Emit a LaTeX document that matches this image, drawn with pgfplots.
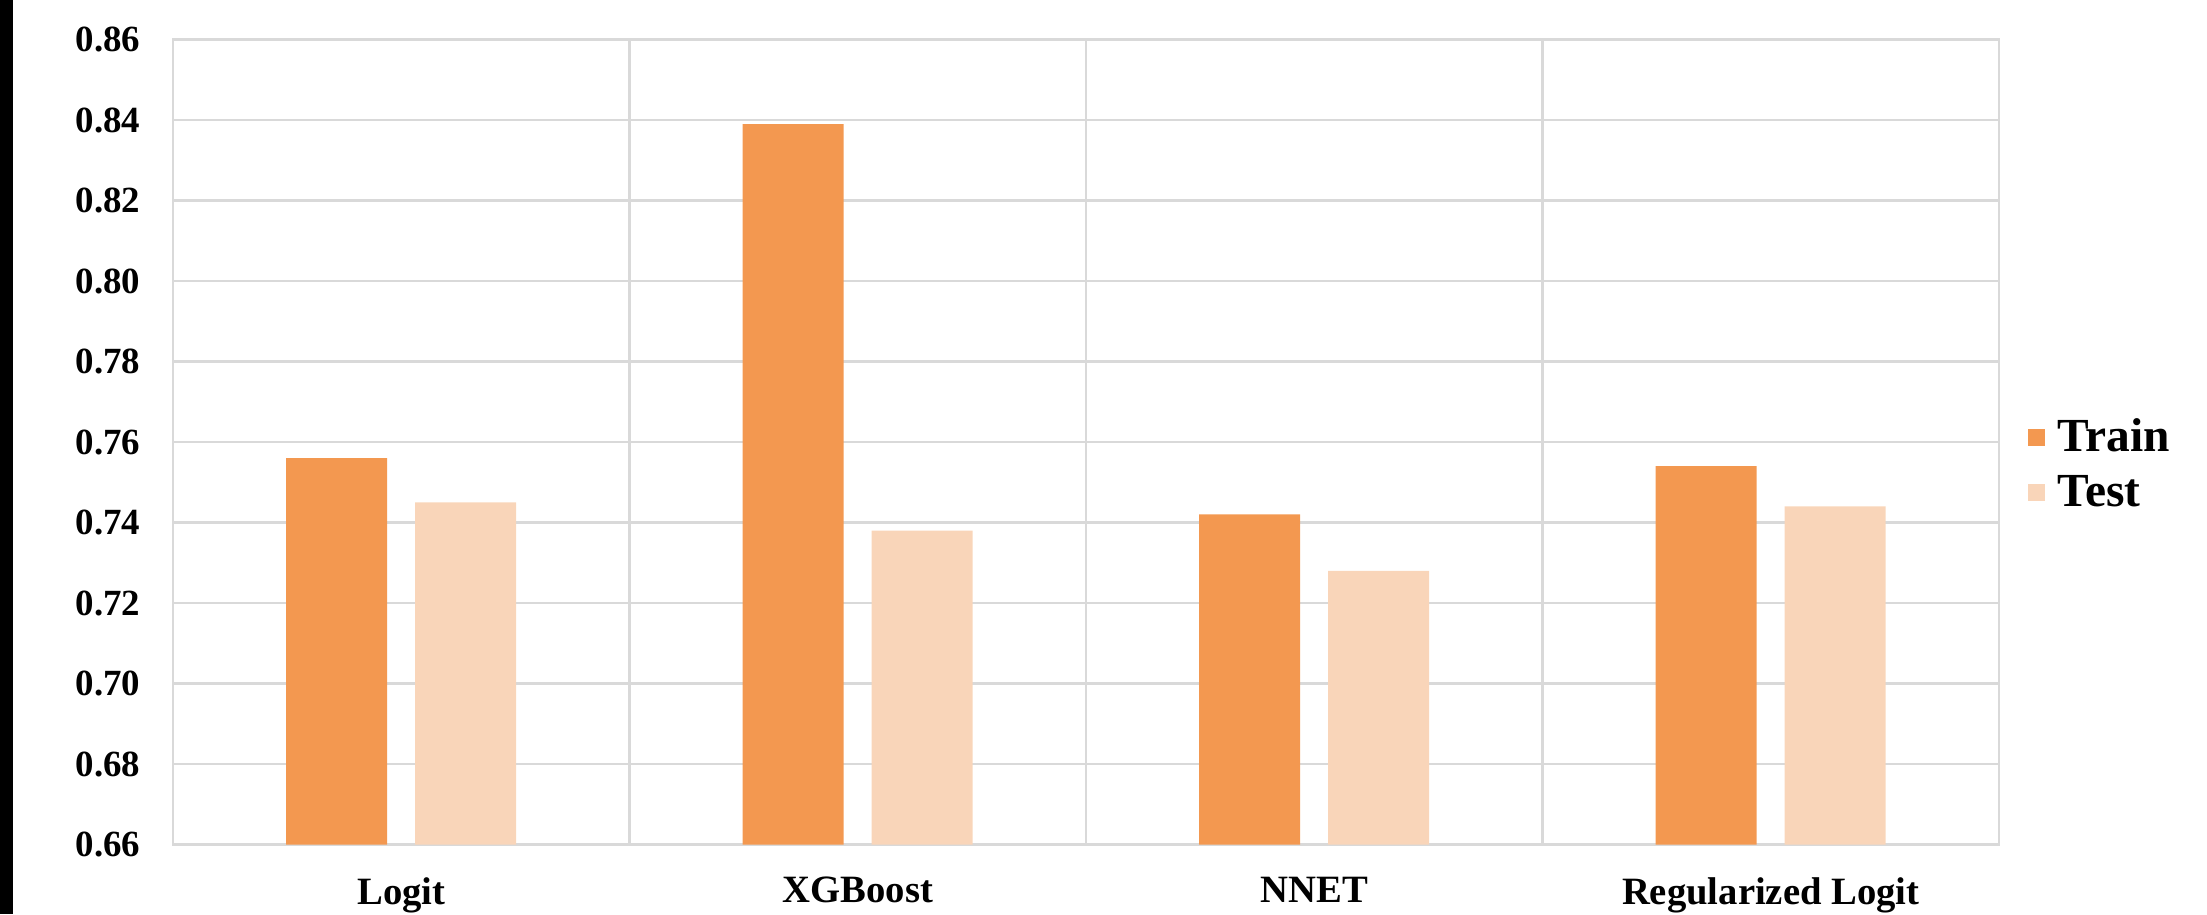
\documentclass[border=0pt]{standalone}
\usepackage{fontspec}
\setmainfont{Liberation Serif}
\usepackage{pgfplots}
\pgfplotsset{compat=1.18}
\definecolor{trainc}{RGB}{243,152,80}
\definecolor{testc}{RGB}{249,213,185}
\definecolor{gridc}{RGB}{217,217,217}
\begin{document}
\begin{tikzpicture}
\begin{axis}[
  at={(0,0)}, anchor=south west,
  width=18.26cm, height=8.05cm, scale only axis,
  xmin=-0.5, xmax=3.5, ymin=0.66, ymax=0.86,
  ytick={0.66,0.68,0.70,0.72,0.74,0.76,0.78,0.80,0.82,0.84,0.86},
  ybar=0.28cm, bar width=1.01cm,
  xtick={0,1,2,3},
  xticklabels={Logit,XGBoost,NNET,Regularized Logit},
  minor xtick={0.5,1.5,2.5},
  xminorgrids=true, ymajorgrids=true, xmajorgrids=false,
  grid style={gridc, line width=0.6pt},
  minor grid style={gridc, line width=0.6pt},
  axis line style={gridc, line width=0.6pt},
  major tick length=0pt, minor tick length=0pt,
  tick style={draw=none},
  yticklabel style={font=\fontsize{10.5}{12}\selectfont\bfseries, inner sep=0pt, xshift=-3.2mm,
    /pgf/number format/.cd, fixed, fixed zerofill, precision=2, assume math mode=true},
  xticklabel style={font=\fontsize{11}{13}\selectfont\bfseries, inner sep=0pt, yshift=-3.2mm, anchor=north},
  legend style={at={(1,0.471)}, anchor=west, xshift=2.8mm, draw=none, fill=none, inner sep=0pt,
    font=\fontsize{13.5}{16}\selectfont\bfseries,
    nodes={inner sep=0pt, text height=3.4mm, text depth=0.6mm},
    row sep=1.5mm, column sep=1.3mm},
  legend image code/.code={\fill[#1] (0mm,-0.85mm) rectangle (1.7mm,0.85mm);},
  legend cell align=left,
]
\addplot[fill=trainc, draw=none] coordinates {(0,0.756) (1,0.839) (2,0.742) (3,0.754)};
\addplot[fill=testc, draw=none] coordinates {(0,0.745) (1,0.738) (2,0.728) (3,0.744)};
\legend{Train,Test}
\end{axis}
\pgfresetboundingbox
\path[use as bounding box] (-1.73,-0.695) rectangle (20.34,8.445);
\fill[black] (-1.73,-0.695) rectangle (-1.60,8.445);
\end{tikzpicture}
\end{document}
